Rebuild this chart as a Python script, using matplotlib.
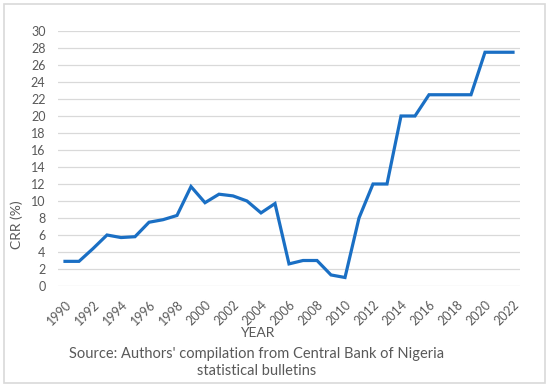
import numpy as np
import matplotlib.pyplot as plt
from matplotlib.patches import Rectangle

years = list(range(1990, 2023))
crr = [2.9, 2.9, 4.4, 6.0, 5.7, 5.8, 7.5, 7.8, 8.3, 11.7, 9.8, 10.8, 10.6, 10.0,
       8.6, 9.7, 2.6, 3.0, 3.0, 1.3, 1.0, 8.0, 12.0, 12.0, 20.0, 20.0, 22.5,
       22.5, 22.5, 22.5, 27.5, 27.5, 27.5]
y_ticks = list(range(0, 31, 2))
x_labels = [str(y) for y in years[::2]]

plt.rcParams['font.family'] = ['Lato', 'DejaVu Sans']
grey = '#595959'

fig = plt.figure(figsize=(5.5, 3.87), dpi=100)
fig.patches.append(Rectangle((4 / 550, 4 / 387), 541 / 550, 379 / 387,
                             transform=fig.transFigure, fill=False,
                             edgecolor='#d9d9d9', linewidth=1.2))

ax = fig.add_axes([58 / 550, 1 - 286 / 387, 462 / 550, 255 / 387])
x = np.arange(len(years))
ax.plot(x, crr, color='#1a6fc4', linewidth=2.3, solid_joinstyle='miter')

ax.set_xlim(-0.5, len(years) - 0.5)
ax.set_ylim(0, 30)
ax.set_yticks(y_ticks)
ax.set_yticklabels([str(v) for v in y_ticks], fontsize=9, color=grey)
ax.set_xticks(x[::2])
ax.set_xticklabels(x_labels, rotation=45, ha='right', rotation_mode='anchor',
                   fontsize=9, color=grey)
ax.tick_params(axis='y', length=0, pad=9)
ax.tick_params(axis='x', length=0, pad=9)
ax.grid(axis='y', color='#d9d9d9', linewidth=0.9)
ax.set_axisbelow(True)
for s in ax.spines.values():
    s.set_visible(False)

fig.text(17 / 550, 1 - 225 / 387, 'CRR (%)', rotation=90, ha='center',
         va='center', fontsize=10, color=grey)
fig.text(257 / 550, 1 - 333 / 387, 'YEAR', ha='center', va='center',
         fontsize=10, color=grey)
fig.text(257 / 550, 1 - 362.5 / 387,
         "Source: Authors' compilation from Central Bank of Nigeria\nstatistical bulletins",
         ha='center', va='center', fontsize=10.5, color=grey, linespacing=1.3)

fig.savefig('out.png', dpi=100)
